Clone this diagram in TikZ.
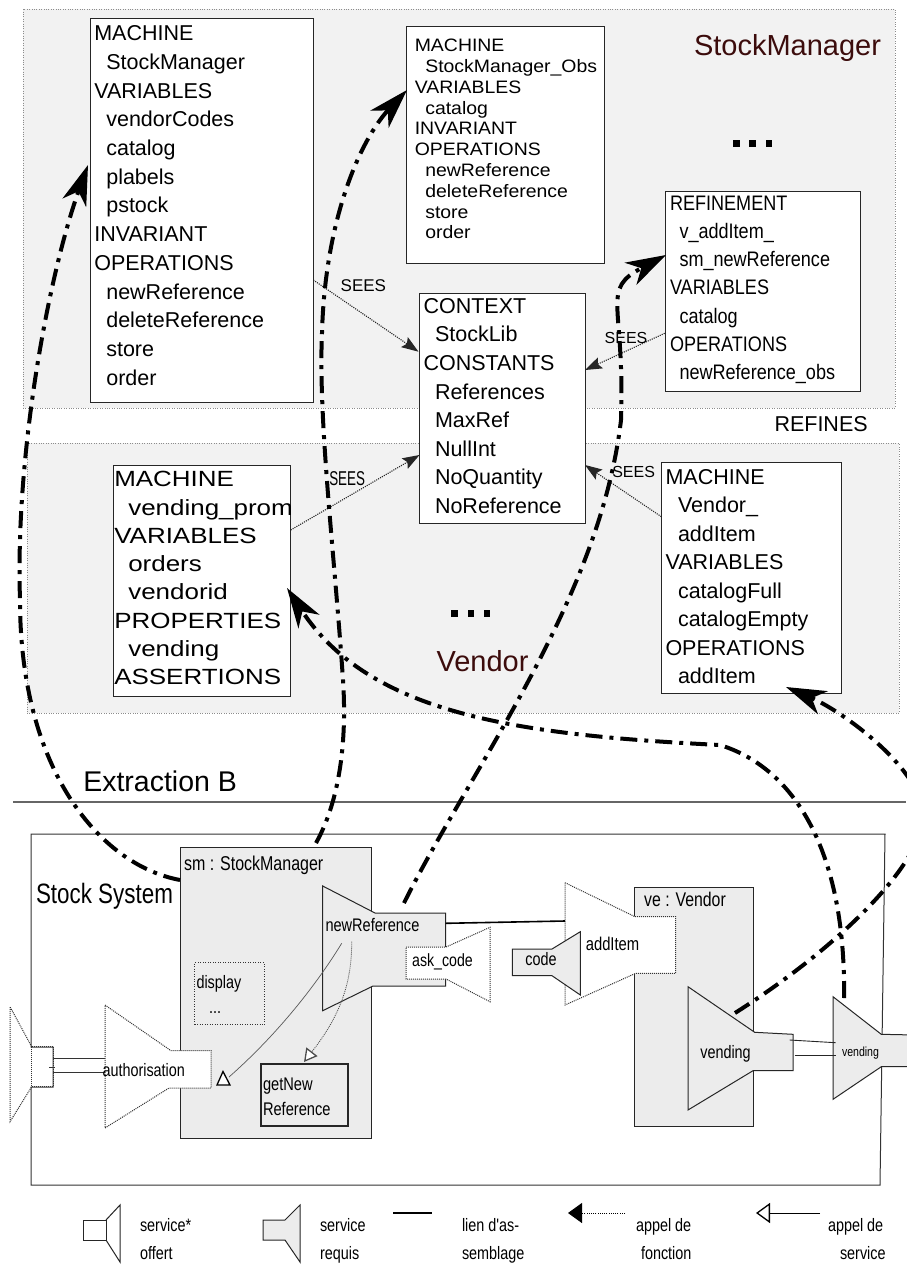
\documentclass[tikz,border=0pt]{standalone}
\usepackage{fontspec}
\setmainfont{Liberation Sans}
\newfontfamily\condf[FakeStretch=0.8]{Liberation Sans}
\newfontfamily\refif[FakeStretch=0.86]{Liberation Sans}
\newfontfamily\widef[FakeStretch=1.18]{Liberation Sans}
\newfontfamily\obsf[FakeStretch=1.08]{Liberation Sans}
\newfontfamily\narrf[FakeStretch=0.67]{Liberation Sans}
\usetikzlibrary{arrows.meta}
\definecolor{dred}{RGB}{60,12,12}
\definecolor{regbg}{RGB}{242,242,242}
\definecolor{compbg}{RGB}{236,236,236}
\newcommand\tl[1]{\begin{tabular}[t]{@{}l@{}}#1\end{tabular}}
\newcommand\fs[2]{\fontsize{#1}{#2}\selectfont}
\begin{document}
\begin{tikzpicture}[x=1pt,y=-1pt,
  region/.style={draw=black!45, dash pattern=on 0.8pt off 1.6pt, line width=0.8pt, fill=regbg, inner sep=0pt, outer sep=0pt, anchor=north west},
  bx/.style={draw=black!85, line width=1pt, fill=white, inner sep=0pt, outer sep=0pt, anchor=north west},
  comp/.style={draw=black!85, line width=1pt, fill=compbg, inner sep=0pt, outer sep=0pt, anchor=north west},
  txt/.style={anchor=base west, inner sep=0pt, outer sep=0pt},
  sees/.style={draw=black!85, line width=1.1pt, dash pattern=on 1.1pt off 1.1pt, -{Stealth[length=17pt,width=12pt,inset=3pt]}},
  call/.style={line width=4pt, dash pattern=on 17pt off 7pt on 4pt off 7pt, -{Stealth[length=40pt,width=25pt,inset=12pt]}},
  req/.style={draw=black!85, line width=1pt, fill=compbg},
  offd/.style={draw=black!80, line width=1pt, dash pattern=on 1pt off 1pt, fill=white},
  sq/.style={fill=black},
  ]
\fill[white] (0,0) rectangle (906,1266);
\useasboundingbox (0,0) rectangle (906,1266);

% ---------- regions ----------
\node[region, minimum width=872pt, minimum height=399pt] (r1) at (23,9) {};
\node[region, minimum width=872pt, minimum height=270pt] (r2) at (27,443) {};
\node[txt, font=\fs{29}{32}, text=dred] (lsm) at (694,55) {StockManager};
\node[txt, font=\fs{29}{32}, text=dred] (lve) at (436.5,671.7) {Vendor};
\fill[sq] (733,140) rectangle (739.7,146.7);
\fill[sq] (749,140) rectangle (755.5,146.7);
\fill[sq] (765.5,140) rectangle (772,146.7);
\fill[sq] (451,609.5) rectangle (457.5,616.5);
\fill[sq] (467.5,609.5) rectangle (474,616.5);
\fill[sq] (483.7,609.5) rectangle (490,616.5);
\node[txt, font=\fs{21.5}{24}] (lref) at (774.5,431.7) {REFINES};

% ---------- B boxes ----------
\node[bx, minimum width=223pt, minimum height=384pt] (b1) at (90,18) {};
\node[txt, font=\fs{21.5}{28.7}] (t1) at (94.3,40.7) {\tl{MACHINE\\\hspace*{12pt}StockManager\\VARIABLES\\\hspace*{12pt}vendorCodes\\\hspace*{12pt}catalog\\\hspace*{12pt}plabels\\\hspace*{12pt}pstock\\INVARIANT\\OPERATIONS\\\hspace*{12pt}newReference\\\hspace*{12pt}deleteReference\\\hspace*{12pt}store\\\hspace*{12pt}order}};

\node[bx, minimum width=198pt, minimum height=237pt] (b2) at (406,26) {};
\node[txt, font={\obsf\fs{18}{20.8}}] (t2) at (414.8,51.7) {\tl{MACHINE\\\hspace*{10.5pt}StockManager\_Obs\\VARIABLES\\\hspace*{10.5pt}catalog\\INVARIANT\\OPERATIONS\\\hspace*{10.5pt}newReference\\\hspace*{10.5pt}deleteReference\\\hspace*{10.5pt}store\\\hspace*{10.5pt}order}};

\node[bx, minimum width=166pt, minimum height=230pt] (b3) at (419,293) {};
\node[txt, font=\fs{21.5}{28.6}] (t3) at (423.5,313.3) {\tl{CONTEXT\\\hspace*{11.5pt}StockLib\\CONSTANTS\\\hspace*{11.5pt}References\\\hspace*{11.5pt}MaxRef\\\hspace*{11.5pt}NullInt\\\hspace*{11.5pt}NoQuantity\\\hspace*{11.5pt}NoReference}};

\node[bx, minimum width=195pt, minimum height=200pt] (b4) at (665,191) {};
\node[txt, font={\refif\fs{21}{28.3}}] (t4) at (670,210) {\tl{REFINEMENT\\\hspace*{9.5pt}v\_addItem\_\\\hspace*{9.5pt}sm\_newReference\\VARIABLES\\\hspace*{9.5pt}catalog\\OPERATIONS\\\hspace*{9.5pt}newReference\_obs}};

\node[bx, minimum width=177.4pt, minimum height=230.3pt] (b5) at (113.3,465.7) {};
\node[txt, font={\widef\fs{22}{28.3}}] (t5) at (114.3,486.7) {\tl{MACHINE\\\hspace*{14pt}vending\_prom\\VARIABLES\\\hspace*{14pt}orders\\\hspace*{14pt}vendorid\\PROPERTIES\\\hspace*{14pt}vending\\ASSERTIONS}};

\node[bx, minimum width=180pt, minimum height=230.6pt] (b6) at (661.3,462.7) {};
\node[txt, font=\fs{21.5}{28.5}] (t6) at (665.5,484) {\tl{MACHINE\\\hspace*{12.5pt}Vendor\_\\\hspace*{12.5pt}addItem\\VARIABLES\\\hspace*{12.5pt}catalogFull\\\hspace*{12.5pt}catalogEmpty\\OPERATIONS\\\hspace*{12.5pt}addItem}};

% ---------- SEES ----------
\coordinate (s1a) at (313.3,280);   \coordinate (s1b) at (418.5,351.7);
\coordinate (s2a) at (664.7,333.3); \coordinate (s2b) at (585,370);
\coordinate (s3a) at (290.7,530);   \coordinate (s3b) at (419.5,455);
\coordinate (s4a) at (661.3,516.7); \coordinate (s4b) at (585,465);
\draw[sees] (s1a) -- (s1b);
\draw[sees] (s2a) -- (s2b);
\draw[sees] (s3a) -- (s3b);
\draw[sees] (s4a) -- (s4b);
\node[txt, font=\fs{17}{20}] (l1) at (340.7,291.7) {SEES};
\node[txt, font=\fs{16}{20}] (l2) at (604.7,343.3) {SEES};
\node[txt, font={\narrf\fs{20}{22}}] (l3) at (329.3,485) {SEES};
\node[txt, font=\fs{16}{20}] (l4) at (612.3,477.3) {SEES};

% ---------- Extraction ----------
\node[txt, font=\fs{28.5}{32}] (lext) at (83.3,791.7) {Extraction B};
\coordinate (e1) at (13,802); \coordinate (e2) at (906,802);
\draw[black!60, line width=1.1pt] (e1) -- (e2);

% ---------- Stock System ----------
\draw[black!80, line width=1pt] (31,1047) -- (31,834) -- (885,834) -- (880,1185) -- (31,1185) -- (31,1087) -- (53,1087) -- (53,1047) -- cycle;
\node[txt, font={\condf\fs{28}{30}}] (lss) at (36,903.3) {Stock System};

% left external port (offered)
\draw[offd, fill=none] (31.7,1046.7) -- (10,1006.7) -- (10,1121.7) -- (31.7,1086.7);
\draw[offd, fill=none] (31.7,1046.7) rectangle (53.3,1086.7);
\draw[black!80, line width=0.8pt] (49,1067) -- (55,1067);
\coordinate (pa1) at (53.3,1058.3); \coordinate (pb1) at (105,1058.3);
\coordinate (pa2) at (53.3,1072.7); \coordinate (pb2) at (105,1072.7);

% sm component
\node[comp, minimum width=191.7pt, minimum height=291pt] (sm) at (180,847.3) {};
\node[txt, font={\condf\fs{20}{22}}] (lsmc) at (184,870) {sm : StockManager};
\node[anchor=north west, inner sep=0pt, draw=black!80, line width=1pt, dash pattern=on 1pt off 1.5pt, minimum width=70pt, minimum height=61.7pt] (disp) at (194,962.3) {};
\node[txt, font={\condf\fs{18}{20}}] (ldisp) at (196.5,988) {display};
\node[txt, font={\condf\fs{18}{20}}] (ldots) at (209,1013) {...};
\node[comp, line width=1.7pt, minimum width=87.3pt, minimum height=62pt] (gnr) at (261,1064) {};
\node[txt, font={\condf\fs{18.3}{25}}] (lgnr) at (263,1090) {\tl{getNew\\Reference}};

% authorisation (offered)
\draw[offd] (105,1005) -- (171,1050.7) -- (211,1050.7) -- (211,1088) -- (169,1088) -- (105,1128) -- cycle;
\draw[black!80, line width=0.9pt] (pa1) -- (pb1);
\draw[black!80, line width=0.9pt] (pa2) -- (pb2);
\node[txt, font={\condf\fs{18}{20}}] (lauth) at (102.5,1076.7) {authorisation};

% newReference (required) + ask_code (offered)
\draw[req] (322.7,886) -- (375,913) -- (445.7,913) -- (445.7,986) -- (373,986) -- (322.7,1010.7) -- cycle;
\draw[offd] (406,947) -- (446,947) -- (490,927.3) -- (490,1001.7) -- (446,979) -- (406,979) -- cycle;
\node[txt, font={\condf\fs{18.2}{20}}] (lnr) at (325.5,931.7) {newReference};
\node[txt, font={\condf\fs{17.7}{20}}] (lask) at (412.2,966.7) {ask\_code};

% ve component
\node[comp, minimum width=118.3pt, minimum height=239.4pt] (ve) at (634.7,887.3) {};
\node[txt, font={\condf\fs{19.8}{22}}] (lve2) at (644.2,906.7) {ve : Vendor};

% addItem (offered)
\draw[offd] (565,882.7) -- (635,916.7) -- (675.7,916.7) -- (675.7,973.3) -- (635.7,973.3) -- (565,1005) -- cycle;
\node[txt, font={\condf\fs{18.5}{20}}] (ladd) at (585.8,950) {addItem};
% code (required)
\draw[req] (512.3,949) -- (552,949) -- (580.3,931.7) -- (580.3,995) -- (552,975.7) -- (512.3,975.7) -- cycle;
\node[txt, font={\condf\fs{18}{20}}] (lcode) at (525.3,965.7) {code};
% assembly link
\coordinate (as1) at (445.7,923.3); \coordinate (as2) at (565,921);
\draw[black, line width=1.6pt] (as1) -- (as2);

% vending ports (required)
\draw[req] (688,986.7) -- (754.7,1032.3) -- (793,1034.3) -- (793,1070.7) -- (753,1070.7) -- (688,1110) -- cycle;
\node[txt, font={\condf\fs{18}{20}}] (lv1) at (700.3,1058.3) {vending};
\draw[req] (833,996.7) -- (881.3,1034.3) -- (915,1035) -- (915,1066.7) -- (881.3,1066.7) -- (833,1099.3) -- cycle;
\node[txt, font={\condf\fs{13.2}{15}}] (lv2) at (842,1056) {vending};
\coordinate (va1) at (789.7,1040); \coordinate (vb1) at (835.7,1042.7);
\coordinate (va2) at (794.7,1055); \coordinate (vb2) at (835.7,1055);
\draw[black!85, line width=0.9pt] (va1) -- (vb1);
\draw[black!85, line width=0.9pt] (va2) -- (vb2);

% service calls inside sm
\coordinate (sc1a) at (341.7,943.3); \coordinate (sc1b) at (229,1077);
\draw[black!65, line width=0.7pt] (sc1a) .. controls (318,982) and (280,1032) .. (sc1b);
\draw[black, line width=1.3pt, fill=white] (223,1071.5) -- (217,1085) -- (230,1085) -- cycle;
\coordinate (sc2a) at (351.7,941.7); \coordinate (sc2b) at (304,1062);
\draw[black!70, line width=0.8pt, dash pattern=on 1pt off 1pt, -{Triangle[open, length=13pt, width=14pt, line width=1.3pt, fill=white]}] (sc2a) .. controls (352,990) and (335,1022) .. (sc2b);

% ---------- big dash-dot calls ----------
\coordinate (cA0) at (180,880);   \coordinate (cA1) at (88,165);
\coordinate (cB0) at (316,843);   \coordinate (cB1) at (407,90);
\coordinate (cC0) at (404,903);   \coordinate (cC1) at (666,255);
\coordinate (cD0) at (735,1013);  \coordinate (cD1) at (786,687);
\coordinate (cE0) at (844,998);   \coordinate (cE1) at (287,588);
\draw[call] (cA0) .. controls (100,865) and (20,770) .. (20,600) .. controls (15,450) and (50,270) .. (cA1);
\draw[call] (cB0) .. controls (340,800) and (347,740) .. (343,680) .. controls (335,560) and (318,420) .. (322,333) .. controls (325,220) and (360,140) .. (cB1);
\draw[call] (cC0) .. controls (470,770) and (600,600) .. (621,420) .. controls (625,300) and (600,290) .. (cC1);
\draw[call] (cD0) .. controls (850,940) and (935,850) .. (922,805) .. controls (910,760) and (840,710) .. (cD1);
\draw[call] (cE0) .. controls (846,860) and (800,770) .. (720,745) .. controls (520,735) and (370,715) .. (cE1);

% ---------- legend ----------
\draw[black!85, line width=1pt] (83,1220) rectangle (106,1240);
\draw[black!85, line width=1pt] (106,1220) -- (120,1205) -- (120,1262) -- (106,1240);
\node[txt, font={\condf\fs{18}{28}}] (lg1) at (140,1231) {\tl{service*\\offert}};
\draw[req] (263,1220) -- (285,1220) -- (300,1205) -- (300,1262) -- (285,1240) -- (263,1240) -- cycle;
\node[txt, font={\condf\fs{18}{28}}] (lg2) at (320,1231) {\tl{service\\requis}};
\coordinate (lg3a) at (393,1213); \coordinate (lg3b) at (432,1213);
\draw[black, line width=2.5pt] (lg3a) -- (lg3b);
\node[txt, font={\condf\fs{18}{28}}] (lg3) at (462,1231) {\tl{lien d'as-\\semblage}};
\coordinate (lg4a) at (625,1213); \coordinate (lg4b) at (568,1213);
\draw[black, line width=1pt, dash pattern=on 1pt off 1.2pt, -{Triangle[length=14pt, width=20pt]}] (lg4a) -- (lg4b);
\node[txt, font={\condf\fs{18}{28}}] (lg4) at (636,1231) {\tl{appel de\\\hspace*{5pt}fonction}};
\coordinate (lg5a) at (820,1213); \coordinate (lg5b) at (756,1213);
\draw[black, line width=1pt, -{Triangle[open, length=14pt, width=20pt, line width=1.3pt]}] (lg5a) -- (lg5b);
\node[txt, font={\condf\fs{18}{28}}] (lg5) at (828,1231) {\tl{appel de\\\hspace*{12pt}service}};
\end{tikzpicture}
\end{document}
